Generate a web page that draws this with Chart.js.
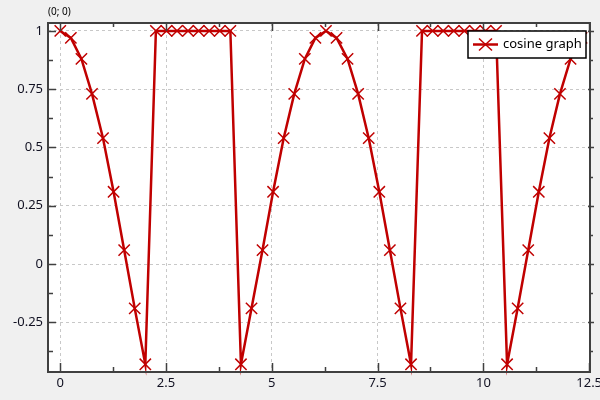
<!DOCTYPE html>
<html>
<head>
<meta charset="utf-8">
<script src="https://cdn.jsdelivr.net/npm/chart.js@4"></script>
<style>
  html, body { margin: 0; padding: 0; background: #f0f0f0; }
  #wrap { width: 600px; height: 400px; }
</style>
</head>
<body>
<div id="wrap"><canvas id="cosGraph" width="600" height="400"></canvas></div>
<script>
// values
var xValues = [0, 0.25, 0.5, 0.75, 1.01, 1.26, 1.51, 1.76, 2.01,
  2.26, 2.51, 2.76, 3.02, 3.27, 3.52, 3.77, 4.02,
  4.27, 4.52, 4.78, 5.03, 5.28, 5.53, 5.78, 6.03, 6.28, 6.53, 6.79, 7.04, 7.29, 7.54, 7.79, 8.04, 8.29,
  8.55, 8.8, 9.05, 9.3, 9.55, 9.8, 10.05, 10.3,
  10.56, 10.81, 11.06, 11.31, 11.56, 11.81, 12.06, 12.32];
var yValues = [1, 0.97, 0.88, 0.73, 0.54, 0.31, 0.06, -0.19, -0.43,
  1, 1, 1, 1, 1, 1, 1, 1,
  -0.43, -0.19, 0.06, 0.31, 0.54, 0.73, 0.88, 0.97, 1, 0.97, 0.88, 0.73, 0.54, 0.31, 0.06, -0.19, -0.43,
  1, 1, 1, 1, 1, 1, 1, 1,
  -0.43, -0.19, 0.06, 0.31, 0.54, 0.73, 0.88, 0.97];
var xTicks = [0, 2.5, 5, 7.5, 10, 12.5];
var yTicks = [-0.25, 0, 0.25, 0.5, 0.75, 1];
var xMinor = [1.25, 3.75, 6.25, 8.75, 11.25];
var yMinor = [-0.375, -0.125, 0.125, 0.375, 0.625, 0.875];
var seriesName = 'cosine graph';

var red = '#c00000';
var axisColor = '#404040';
var font = '"Noto Sans", "Open Sans", sans-serif';

var points = xValues.map(function (x, i) { return { x: x, y: yValues[i] }; });

var frame = {
  id: 'frame',
  beforeDraw: function (chart) {
    var c = chart.ctx, a = chart.chartArea;
    c.save();
    c.fillStyle = '#f0f0f0';
    c.fillRect(0, 0, chart.width, chart.height);
    c.fillStyle = '#ffffff';
    c.fillRect(a.left, a.top, a.right - a.left, a.bottom - a.top);
    c.restore();
  },
  afterDatasetsDraw: function (chart) {
    var c = chart.ctx, a = chart.chartArea;
    var xs = chart.scales.x, ys = chart.scales.y;
    c.save();
    // axis ticks, pointing into the plot
    c.strokeStyle = axisColor;
    c.lineWidth = 1.5;
    c.beginPath();
    xTicks.forEach(function (v) {
      var px = Math.round(xs.getPixelForValue(v)) + 0.5;
      c.moveTo(px, a.bottom); c.lineTo(px, a.bottom - 9);
      c.moveTo(px, a.top); c.lineTo(px, a.top + 8);
    });
    xMinor.forEach(function (v) {
      var px = Math.round(xs.getPixelForValue(v)) + 0.5;
      c.moveTo(px, a.bottom); c.lineTo(px, a.bottom - 5);
      c.moveTo(px, a.top); c.lineTo(px, a.top + 4);
    });
    yTicks.forEach(function (v) {
      var py = Math.round(ys.getPixelForValue(v)) + 0.5;
      c.moveTo(a.left, py); c.lineTo(a.left + 8, py);
      c.moveTo(a.right - 2, py); c.lineTo(a.right + 4, py);
    });
    yMinor.forEach(function (v) {
      var py = Math.round(ys.getPixelForValue(v)) + 0.5;
      c.moveTo(a.left, py); c.lineTo(a.left + 5, py);
      c.moveTo(a.right - 1, py); c.lineTo(a.right + 3, py);
    });
    c.stroke();

    // frame
    c.lineWidth = 2;
    c.strokeRect(a.left, a.top, a.right - a.left, a.bottom - a.top);

    // legend box inside the plot
    var w = 118, h = 27;
    var lx = a.right - 4 - w, ly = a.top + 8;
    c.fillStyle = '#ffffff';
    c.fillRect(lx, ly, w, h);
    c.strokeStyle = '#000000';
    c.lineWidth = 1.5;
    c.strokeRect(lx, ly, w, h);
    var my = ly + h / 2;
    c.strokeStyle = red;
    c.lineWidth = 2.5;
    c.beginPath();
    c.moveTo(lx + 5, my); c.lineTo(lx + 30, my);
    c.stroke();
    c.lineWidth = 1.5;
    c.beginPath();
    c.moveTo(lx + 11, my - 6); c.lineTo(lx + 24, my + 6);
    c.moveTo(lx + 11, my + 6); c.lineTo(lx + 24, my - 6);
    c.stroke();
    c.fillStyle = '#000000';
    c.font = '13px ' + font;
    c.textBaseline = 'middle';
    c.fillText(seriesName, lx + 35, my);

    // coordinate readout
    c.font = '10px ' + font;
    c.textBaseline = 'alphabetic';
    c.fillText('(0; 0)', a.left, 15);
    c.restore();
  }
};

var ctx = document.getElementById('cosGraph').getContext('2d');
var chart = new Chart(ctx, {
  type: 'scatter',
  data: {
    datasets: [{
      label: seriesName,
      data: points,
      showLine: true,
      tension: 0,
      borderColor: red,
      backgroundColor: red,
      borderWidth: 2.5,
      pointStyle: 'crossRot',
      pointRadius: 8,
      pointHoverRadius: 8,
      pointBorderWidth: 1.5,
      pointBorderColor: red,
      clip: false
    }]
  },
  options: {
    responsive: false,
    animation: false,
    layout: { padding: { left: 0, top: 23, right: 10, bottom: 0 } },
    plugins: {
      legend: { display: false },
      tooltip: { enabled: false }
    },
    scales: {
      x: {
        type: 'linear',
        min: -0.29,
        max: 12.52,
        afterBuildTicks: function (s) { s.ticks = xTicks.map(function (v) { return { value: v }; }); },
        afterFit: function (s) { s.height = 28; s.paddingRight = 0; s.paddingLeft = 0; },
        ticks: {
          padding: 3,
          color: '#111122',
          font: { family: font, size: 13 },
          maxRotation: 0,
          autoSkip: false,
          callback: function (v) { return String(v); }
        },
        grid: { color: '#c8c8c8', lineWidth: 1, drawTicks: false },
        border: { display: false, dash: [3, 3] }
      },
      y: {
        type: 'linear',
        min: -0.463,
        max: 1.034,
        afterBuildTicks: function (s) { s.ticks = yTicks.map(function (v) { return { value: v }; }); },
        afterFit: function (s) { s.width = 48; s.paddingTop = 0; s.paddingBottom = 0; },
        ticks: {
          padding: 5,
          color: '#111122',
          font: { family: font, size: 13 },
          autoSkip: false,
          callback: function (v) { return String(v); }
        },
        grid: { color: '#c8c8c8', lineWidth: 1, drawTicks: false },
        border: { display: false, dash: [3, 3] }
      }
    }
  },
  plugins: [frame]
});
</script>
</body>
</html>
